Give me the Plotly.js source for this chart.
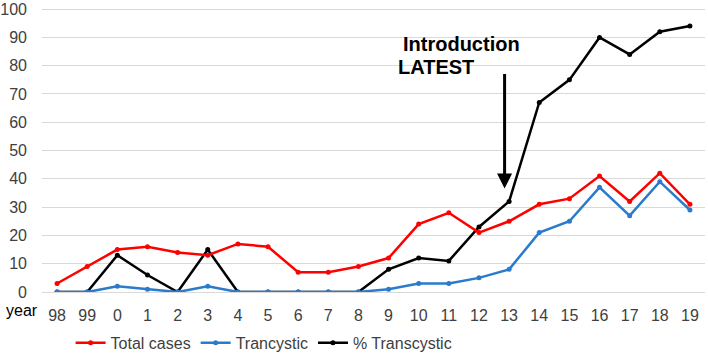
<!DOCTYPE html>
<html><head><meta charset="utf-8">
<script src="https://cdn.plot.ly/plotly-3.0.1.min.js"></script>
<style>html,body{margin:0;padding:0;background:#fff;}#c{width:708px;height:355px;}</style>
</head><body><div id="c"></div>
<script>
const years = ['98','99','0','1','2','3','4','5','6','7','8','9','10','11','12','13','14','15','16','17','18','19'];
const totalCases = [3,9,15,16,14,13,17,16,7,7,9,12,24,28,21,25,31,33,41,32,42,31];
const trancystic = [0,0,2,1,0,2,0,0,0,0,0,1,3,3,5,8,21,25,37,27,39,29];
const pctTranscystic = [0,0,13,6,0,15,0,0,0,0,0,8,12,11,23,32,67,75,90,84,92,94];
const yTicks = [0,10,20,30,40,50,60,70,80,90,100];

const idx = years.map((_,i)=>i);
const font = "'Liberation Sans', Arial, sans-serif";
const mk = (name, y, color) => ({
  type:'scatter', mode:'lines+markers', name, x: idx, y,
  line:{color, width:2.5}, marker:{color, size:5}
});
const data = [
  mk('% Transcystic', pctTranscystic, '#000000'),
  mk('Trancystic', trancystic, '#2A7BCB'),
  mk('Total cases', totalCases, '#FF0000')
];
const layout = {
  width:708, height:355,
  margin:{l:42, r:3, t:8, b:63, autoexpand:false},
  paper_bgcolor:'#fff', plot_bgcolor:'#fff',
  showlegend:true,
  legend:{orientation:'h', x:0.335, xanchor:'center', yref:'container', y:0.034, yanchor:'middle',
          traceorder:'reversed', itemwidth:30, font:{family:font, size:16, color:'#404040'}},
  xaxis:{range:[-0.5,21.5], tickvals:idx, ticktext:years, showgrid:false, zeroline:false,
         showline:false, ticks:'', ticklabelstandoff:12, tickfont:{family:font, size:16, color:'#404040'}, fixedrange:true},
  yaxis:{range:[0,100.4], tickvals:yTicks, showgrid:true, gridcolor:'#D9D9D9', gridwidth:1,
         zeroline:true, zerolinecolor:'#D9D9D9', showline:false, ticks:'', ticklabelstandoff:14,
         tickfont:{family:font, size:16, color:'#404040'}, fixedrange:true},
  annotations:[
    {xref:'paper', yref:'paper', x:-0.057, y:-0.027, xanchor:'left', yanchor:'top', showarrow:false,
     text:'year', font:{family:font, size:16, color:'#000'}},
    {xref:'x', yref:'y', x:13.42, y:87.85, showarrow:false, text:'<b>Introduction</b>',
     font:{family:font, size:20, color:'#000'}},
    {xref:'x', yref:'y', x:12.56, y:79.6, showarrow:false, text:'<b>LATEST</b>',
     font:{family:font, size:20, color:'#000'}},
    {xref:'x', yref:'y', x:14.85, y:36.6, ax:0, ay:-116, axref:'pixel', ayref:'pixel',
     showarrow:true, arrowhead:2, arrowsize:1, arrowwidth:3, arrowcolor:'#000', text:''}
  ]
};
Plotly.newPlot('c', data, layout, {displayModeBar:false, staticPlot:true});
</script></body></html>
